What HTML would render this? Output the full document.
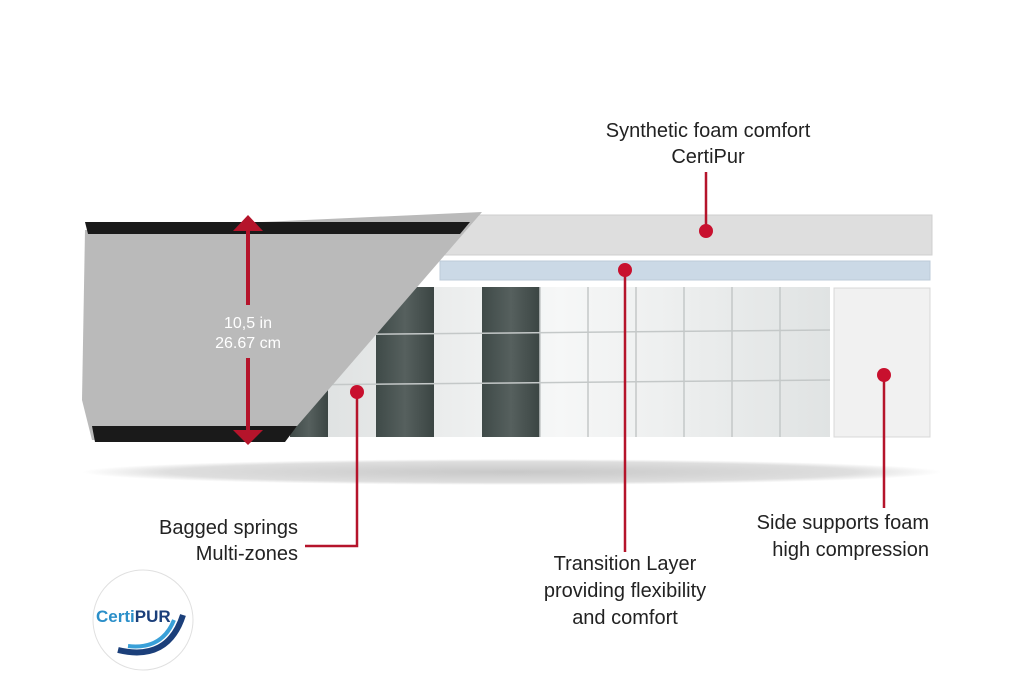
<!DOCTYPE html>
<html><head><meta charset="utf-8"><style>
html,body{margin:0;padding:0;background:#fff;}
svg{display:block;}
text{font-family:"Liberation Sans",sans-serif;}
</style></head><body>
<svg width="1024" height="683" viewBox="0 0 1024 683" xmlns="http://www.w3.org/2000/svg">
<defs>
<radialGradient id="sh" cx="0.5" cy="0.5" r="0.5">
<stop offset="0" stop-color="#c8c8c8"/><stop offset="0.8" stop-color="#dedede"/><stop offset="1" stop-color="#fff"/>
</radialGradient>
<linearGradient id="dk" x1="0" x2="1"><stop offset="0" stop-color="#3f4a48"/><stop offset="0.5" stop-color="#56605e"/><stop offset="1" stop-color="#3b4543"/></linearGradient>
<linearGradient id="lt" x1="0" x2="1"><stop offset="0" stop-color="#dcdfdf"/><stop offset="0.5" stop-color="#f6f7f7"/><stop offset="1" stop-color="#e0e3e3"/></linearGradient>
</defs>
<ellipse cx="512" cy="472" rx="430" ry="13" fill="url(#sh)"/>
<polygon points="470,215 932,215 932,255 420,255" fill="#dedede" stroke="#cfcfcf"/>
<rect x="440" y="261" width="490" height="19" fill="#cbd9e6" stroke="#bccbd8"/>
<rect x="290" y="287" width="540" height="150" fill="url(#lt)"/>
<rect x="290" y="287" width="38" height="150" fill="url(#dk)"/>
<rect x="376" y="287" width="58" height="150" fill="url(#dk)"/>
<rect x="482" y="287" width="58" height="150" fill="url(#dk)"/>
<g stroke="#c4c8c8" stroke-width="1.5">
<line x1="588" y1="287" x2="588" y2="437"/><line x1="636" y1="287" x2="636" y2="437"/>
<line x1="684" y1="287" x2="684" y2="437"/><line x1="732" y1="287" x2="732" y2="437"/>
<line x1="780" y1="287" x2="780" y2="437"/><line x1="540" y1="287" x2="540" y2="437"/>
<line x1="290" y1="335" x2="830" y2="330"/><line x1="290" y1="385" x2="830" y2="380"/>
</g>
<rect x="834" y="288" width="96" height="149" fill="#f1f1f1" stroke="#d8d8d8"/>
<polygon points="85,230 482,212 285,440 92,440 82,400" fill="#bababa"/>
<path d="M85,222 L470,222 L460,234 L88,234 Z" fill="#1a1a1a"/>
<path d="M92,426 L297,426 L285,442 L95,442 Z" fill="#1a1a1a"/>
<g fill="#b5142b" stroke="#b5142b">
<line x1="248" y1="228" x2="248" y2="305" stroke-width="4"/>
<line x1="248" y1="358" x2="248" y2="434" stroke-width="4"/>
<polygon points="233,231 263,231 248,215" stroke="none"/>
<polygon points="233,430 263,430 248,445" stroke="none"/>
</g>
<text x="248" y="328" font-size="16" fill="#fff" text-anchor="middle">10,5 in</text>
<text x="248" y="348" font-size="16" fill="#fff" text-anchor="middle">26.67 cm</text>
<g stroke="#b5142b" stroke-width="2.5" fill="none">
<line x1="706" y1="172" x2="706" y2="231"/>
<line x1="625" y1="270" x2="625" y2="552"/>
<polyline points="357,392 357,546 305,546"/>
<line x1="884" y1="375" x2="884" y2="508"/>
</g>
<g fill="#c8102e">
<circle cx="706" cy="231" r="7"/><circle cx="625" cy="270" r="7"/>
<circle cx="357" cy="392" r="7"/><circle cx="884" cy="375" r="7"/>
</g>
<g font-size="20" fill="#222">
<text x="708" y="137" text-anchor="middle">Synthetic foam comfort</text>
<text x="708" y="163" text-anchor="middle">CertiPur</text>
<text x="298" y="534" text-anchor="end">Bagged springs</text>
<text x="298" y="560" text-anchor="end">Multi-zones</text>
<text x="625" y="570" text-anchor="middle">Transition Layer</text>
<text x="625" y="597" text-anchor="middle">providing flexibility</text>
<text x="625" y="624" text-anchor="middle">and comfort</text>
<text x="929" y="529" text-anchor="end">Side supports foam</text>
<text x="929" y="556" text-anchor="end">high compression</text>
</g>
<circle cx="143" cy="620" r="50" fill="#fff" stroke="#e0e0e0"/>
<path d="M118,650 Q168,662 183,615" stroke="#1b3f7a" stroke-width="6" fill="none"/>
<path d="M128,646 Q162,650 174,620" stroke="#39a0d8" stroke-width="4" fill="none"/>
<text x="96" y="622" font-size="17" font-weight="bold" fill="#2b8fc9">Certi<tspan fill="#1b3f7a">PUR</tspan></text>
</svg>
</body></html>
